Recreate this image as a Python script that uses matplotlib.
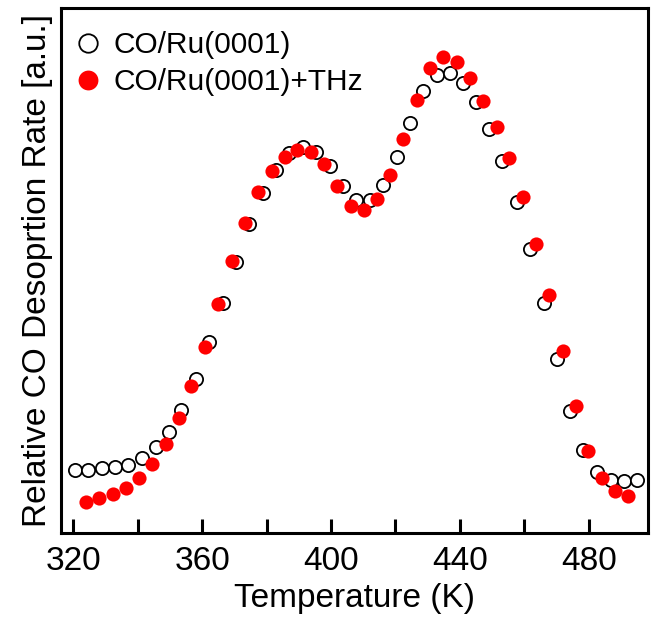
import numpy as np
import matplotlib
matplotlib.use('Agg')
import matplotlib.pyplot as plt

plt.rcParams['font.family'] = ['Liberation Sans', 'DejaVu Sans']

# CO/Ru(0001) - open circles
temp_co = [320.5, 324.7, 328.8, 332.9, 337.1, 341.4, 345.6, 349.7, 353.6, 358.1,
           362.2, 366.5, 370.4, 374.6, 378.8, 382.9, 387.0, 391.2, 395.5, 399.7,
           403.8, 407.9, 412.1, 416.2, 420.4, 424.5, 428.6, 432.8, 436.9, 441.0,
           445.0, 449.1, 453.2, 457.6, 461.7, 466.1, 470.2, 474.1, 478.3, 482.6,
           486.9, 490.9, 495.0]
rate_co = [13.2, 13.2, 13.6, 13.8, 14.3, 15.8, 18.0, 21.3, 25.8, 32.3,
           40.1, 48.4, 57.0, 64.9, 71.4, 76.3, 79.8, 81.0, 80.0, 77.0,
           72.9, 70.0, 70.0, 73.1, 79.1, 86.2, 92.9, 96.2, 96.7, 94.6,
           90.5, 84.8, 78.2, 69.6, 59.7, 48.4, 36.5, 25.6, 17.4, 12.8,
           11.1, 11.0, 11.1]

# CO/Ru(0001)+THz - filled red circles
temp_thz = [323.9, 328.1, 332.2, 336.4, 340.5, 344.5, 348.7, 352.8, 356.7, 360.9,
            365.0, 369.2, 373.3, 377.4, 381.6, 385.7, 389.6, 393.8, 397.9, 402.0,
            406.2, 410.2, 414.2, 418.3, 422.4, 426.6, 430.7, 434.8, 439.0, 443.1,
            447.2, 451.4, 455.3, 459.5, 463.6, 467.7, 471.9, 475.9, 479.8, 484.2,
            488.1, 492.2]
rate_thz = [6.6, 7.3, 8.1, 9.5, 11.6, 14.5, 18.7, 24.1, 30.9, 39.1,
            48.1, 57.1, 65.1, 71.7, 76.1, 78.9, 80.5, 80.1, 77.5, 72.9,
            68.8, 67.9, 70.1, 75.2, 82.7, 91.0, 97.6, 100.1, 99.0, 95.5,
            90.8, 85.2, 78.7, 70.6, 60.7, 49.9, 38.3, 26.7, 17.3, 11.5,
            8.8, 7.8]

xticks = [320, 340, 360, 380, 400, 420, 440, 460, 480]
xticklabels = ['320', '', '360', '', '400', '', '440', '', '480']

fig = plt.figure(figsize=(6.54, 6.21), dpi=100)
ax = fig.add_axes([61/654, 88/621, 587/654, 525/621])

ax.plot(temp_co, rate_co, 'o', ms=9.5, mfc='white', mec='black', mew=1.3,
        label='CO/Ru(0001)')
ax.plot(temp_thz, rate_thz, 'o', ms=10.2, mfc='#ff0000', mec='#ff0000', mew=0,
        label='CO/Ru(0001)+THz')

ax.set_xlim(316.2, 498.4)
ax.set_ylim(0, 110.3)
ax.set_xticks(xticks)
ax.set_xticklabels(xticklabels)
ax.set_yticks([])
ax.tick_params(axis='x', direction='in', length=10, width=2.2, pad=9,
               labelsize=24)
for s in ax.spines.values():
    s.set_linewidth(2.2)

ax.set_xlabel('Temperature (K)', fontsize=24, labelpad=5)
ax.set_ylabel('Relative CO Desoprtion Rate [a.u.]', fontsize=24, labelpad=6)

ax.legend(loc='upper left', bbox_to_anchor=(-5/587, 1.0), frameon=False,
          fontsize=21.5, handletextpad=0.55, borderaxespad=0.2,
          labelspacing=0.3, handlelength=0.6, borderpad=0.58, markerscale=1.4)

fig.savefig('out.png', dpi=100)
